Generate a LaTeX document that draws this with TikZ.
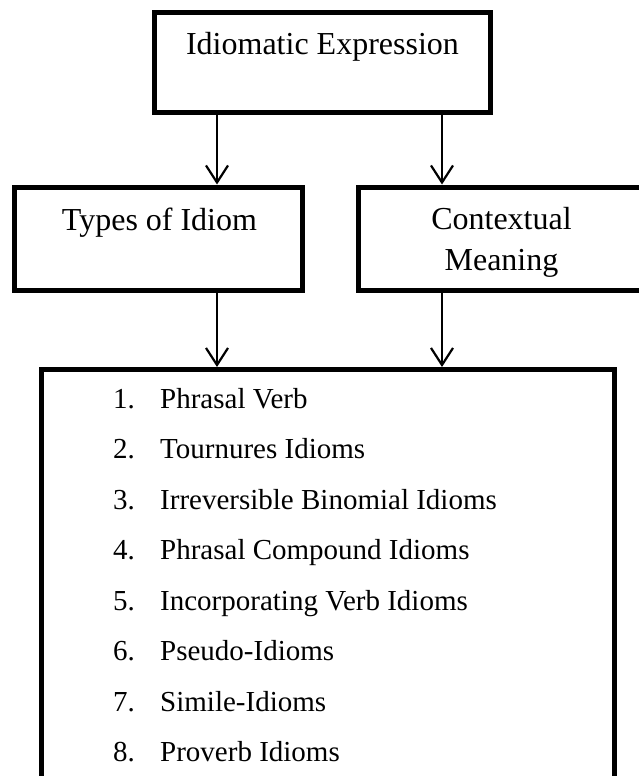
\documentclass[tikz,border=0pt]{standalone}
\usepackage{fontspec}
\setmainfont{Liberation Serif}
\usetikzlibrary{arrows.meta}
\tikzset{
  box/.style={draw,rectangle,line width=5pt,inner sep=0pt},
  head/.style={anchor=base,inner sep=0pt,font=\fontsize{32}{41}\selectfont},
  item/.style={anchor=base west,inner sep=0pt,font=\fontsize{29}{35}\selectfont},
  arr/.style={line width=2.2pt,-{Straight Barb[length=17pt,width=22pt]}}
}
\begin{document}
\begin{tikzpicture}[x=1pt,y=-1pt]
\useasboundingbox (0,0) rectangle (638,776);
\coordinate (c1) at (217,0);
\coordinate (c2) at (442,0);
% boxes
\node[box,minimum width=336pt,minimum height=100pt] (expr) at (322.5,62.5) {};
\node[box,minimum width=288pt,minimum height=103pt] (types) at (158,238.5) {};
\node[box,minimum width=286pt,minimum height=103pt] (ctx) at (501,238.5) {};
\node[box,minimum width=573pt,minimum height=450pt] (list) at (328,594.5) {};
% labels
\node[head] (exprtxt) at (322.5,55) {Idiomatic Expression};
\node[head] (typestxt) at (159.5,230) {Types of Idiom};
\node[head] (ctxtxt) at (501.5,229) {Contextual};
\node[head] (ctxtxtb) at (501.5,270) {Meaning};
% list items
\foreach \i/\t in {1/Phrasal Verb,2/Tournures Idioms,3/Irreversible Binomial Idioms,
  4/Phrasal Compound Idioms,5/Incorporating Verb Idioms,6/Pseudo-Idioms,
  7/Simile-Idioms,8/Proverb Idioms}{
  \node[item] (n\i) at (113,{408+50.57*(\i-1)}) {\i.};
  \node[item] (t\i) at (160,{408+50.57*(\i-1)}) {\t};
}
% arrows
\draw[arr] (expr.south -| c1) -- (types.north -| c1);
\draw[arr] (expr.south -| c2) -- (ctx.north -| c2);
\draw[arr] (types.south -| c1) -- (list.north -| c1);
\draw[arr] (ctx.south -| c2) -- (list.north -| c2);
\end{tikzpicture}
\end{document}
